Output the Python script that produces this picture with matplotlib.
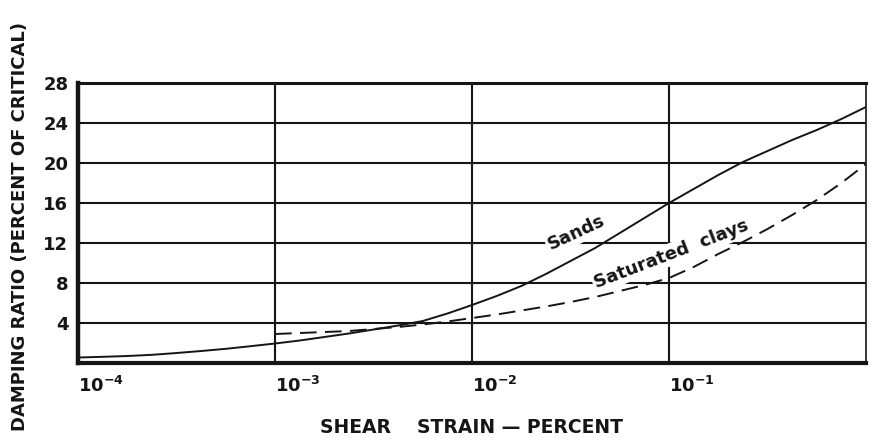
import numpy as np
import matplotlib.pyplot as plt

# damping ratio vs shear strain (log10 of strain in percent)
sands_log_strain = [-4.0, -3.875, -3.75, -3.625, -3.5, -3.375, -3.25, -3.125,
                    -3.0, -2.875, -2.75, -2.625, -2.5, -2.375, -2.25, -2.125,
                    -2.0, -1.875, -1.75, -1.625, -1.5, -1.375, -1.25, -1.125,
                    -1.0, -0.875, -0.75, -0.625, -0.5, -0.375, -0.25, -0.125, 0.0]
sands_damping = [0.55, 0.62, 0.7, 0.82, 1.0, 1.2, 1.42, 1.68,
                 1.95, 2.25, 2.6, 2.95, 3.35, 3.75, 4.2, 4.95,
                 5.8, 6.7, 7.7, 8.9, 10.2, 11.5, 13.0, 14.5,
                 16.0, 17.4, 18.8, 20.1, 21.2, 22.3, 23.3, 24.4, 25.6]

clays_log_strain = [-3.0, -2.875, -2.75, -2.625, -2.5, -2.375, -2.25, -2.125,
                    -2.0, -1.875, -1.75, -1.625, -1.5, -1.375, -1.25, -1.125,
                    -1.0, -0.875, -0.75, -0.625, -0.5, -0.375, -0.25, -0.125, 0.0]
clays_damping = [2.9, 3.0, 3.1, 3.2, 3.4, 3.6, 3.85, 4.15,
                 4.5, 4.85, 5.25, 5.65, 6.1, 6.6, 7.2, 7.8,
                 8.5, 9.6, 10.9, 12.1, 13.4, 14.8, 16.3, 18.0, 19.9]

y_ticks = [4, 8, 12, 16, 20, 24, 28]
x_ticks = [1e-4, 1e-3, 1e-2, 1e-1]
x_tick_labels = [r'$10^{-4}$', r'$10^{-3}$', r'$10^{-2}$', r'$10^{-1}$']

ink = '#151515'

plt.rcParams['font.family'] = ['DejaVu Sans']
plt.rcParams['font.weight'] = 'bold'
plt.rcParams['mathtext.default'] = 'bf'
plt.rcParams['lines.scale_dashes'] = False

fig = plt.figure(figsize=(8.7, 4.38), dpi=100)
ax = fig.add_axes([0.0897, 0.1712, 0.9057, 0.6393])
ax.set_xscale('log')
ax.set_xlim(1e-4, 1)
ax.set_ylim(0, 28)

# grid drawn by hand so it sits under the curves
for y in y_ticks[:-1]:
    ax.axhline(y, color=ink, lw=1.5, zorder=1)
for x in x_ticks[1:]:
    ax.axvline(x, color=ink, lw=1.5, zorder=1)

ax.plot(10 ** np.array(sands_log_strain), sands_damping, color=ink, lw=1.4, zorder=3)
ax.plot(10 ** np.array(clays_log_strain), clays_damping, color=ink, lw=1.4,
        dashes=(12, 6), zorder=3)

lbl = dict(color=ink, fontsize=13, ha='center', va='center', rotation_mode='anchor',
           bbox=dict(facecolor='white', edgecolor='none', pad=1.5), zorder=2)
ax.text(0.034, 13.0, 'Sands', rotation=25, **lbl)
ax.text(0.103, 10.9, 'Saturated  clays', rotation=21, **lbl)

ax.set_yticks(y_ticks)
ax.set_yticklabels([str(v) for v in y_ticks], fontsize=13, color=ink)
ax.set_xticks(x_ticks)
ax.set_xticklabels(x_tick_labels, fontsize=13, color=ink, ha='left')
ax.xaxis.set_minor_locator(plt.NullLocator())
ax.tick_params(axis='both', length=0)
ax.tick_params(axis='y', pad=7)
ax.tick_params(axis='x', pad=9)

ax.spines['left'].set_linewidth(3.2)
ax.spines['bottom'].set_linewidth(3.0)
ax.spines['top'].set_linewidth(2.2)
ax.spines['right'].set_linewidth(1.2)
for s in ax.spines.values():
    s.set_color(ink)

fig.text(0.023, 0.484, 'DAMPING RATIO (PERCENT OF CRITICAL)', rotation=90,
         ha='center', va='center', fontsize=13, color=ink)
fig.text(0.5425, 0.023, 'SHEAR    STRAIN — PERCENT', ha='center', va='center',
         fontsize=13.5, color=ink)

fig.savefig('out.png', dpi=100)
